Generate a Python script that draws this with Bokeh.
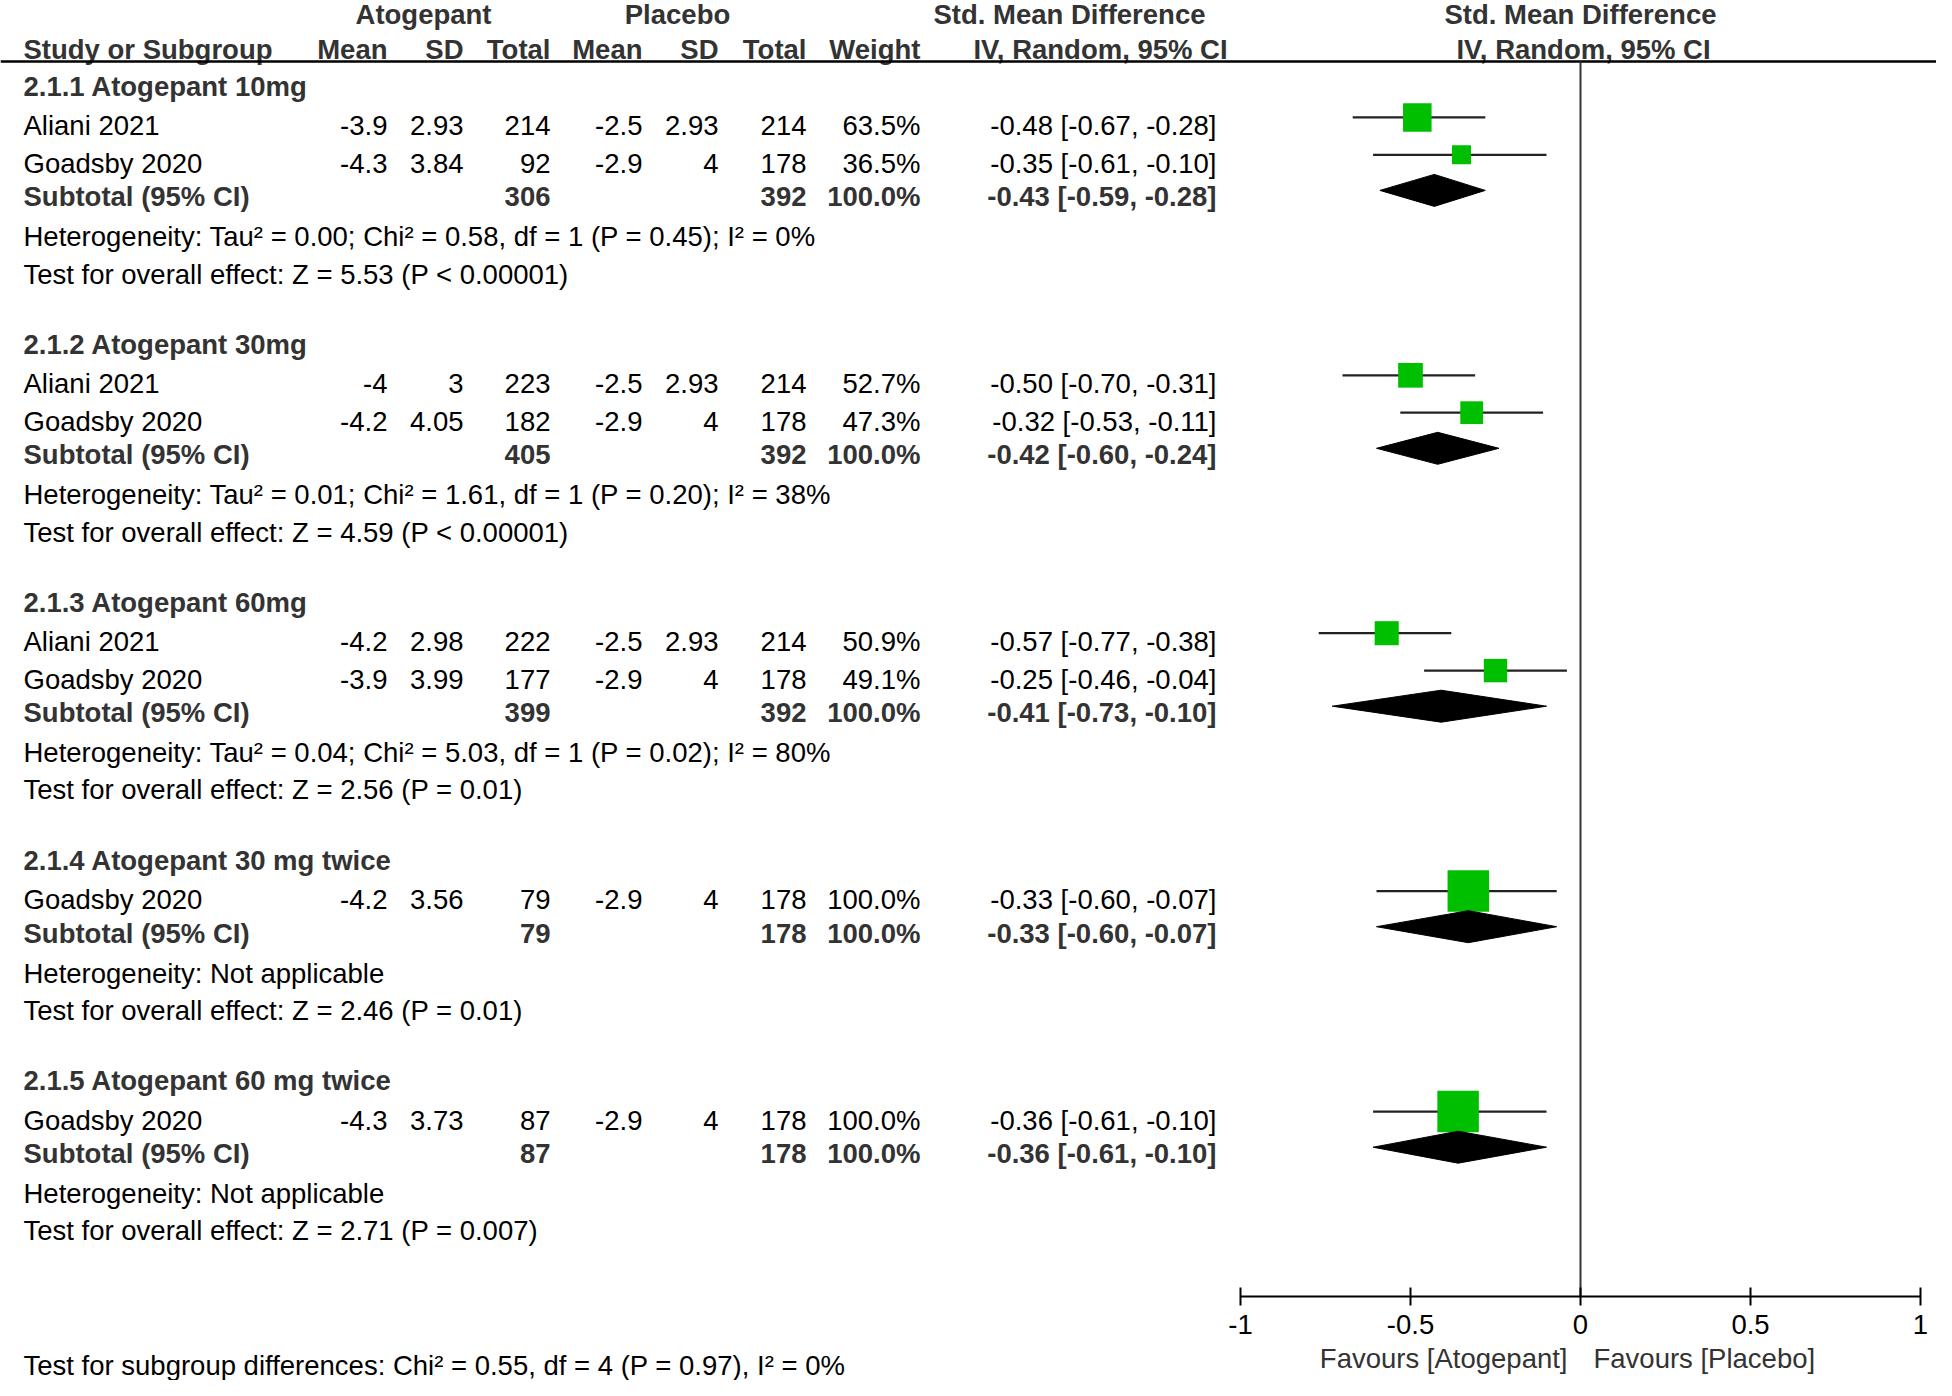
from bokeh.plotting import figure
from bokeh.models import ColumnDataSource, Range1d, LinearAxis, FixedTicker, NumeralTickFormatter
from bokeh.core.properties import value
from bokeh.embed import file_html
from bokeh.resources import INLINE

# ---------------- data ----------------
subgroups = ["2.1.1 Atogepant 10mg", "2.1.2 Atogepant 30mg", "2.1.3 Atogepant 60mg",
             "2.1.4 Atogepant 30 mg twice", "2.1.5 Atogepant 60 mg twice"]

study_group = [0, 0, 1, 1, 2, 2, 3, 4]
study_names = ["Aliani 2021", "Goadsby 2020", "Aliani 2021", "Goadsby 2020",
               "Aliani 2021", "Goadsby 2020", "Goadsby 2020", "Goadsby 2020"]
atog_mean = [-3.9, -4.3, -4, -4.2, -4.2, -3.9, -4.2, -4.3]
atog_sd = [2.93, 3.84, 3, 4.05, 2.98, 3.99, 3.56, 3.73]
atog_n = [214, 92, 223, 182, 222, 177, 79, 87]
plac_mean = [-2.5, -2.9, -2.5, -2.9, -2.5, -2.9, -2.9, -2.9]
plac_sd = [2.93, 4, 2.93, 4, 2.93, 4, 4, 4]
plac_n = [214, 178, 214, 178, 214, 178, 178, 178]
weight = [63.5, 36.5, 52.7, 47.3, 50.9, 49.1, 100.0, 100.0]
smd = [-0.48, -0.35, -0.50, -0.32, -0.57, -0.25, -0.33, -0.36]
smd_lo = [-0.67, -0.61, -0.70, -0.53, -0.77, -0.46, -0.60, -0.61]
smd_hi = [-0.28, -0.10, -0.31, -0.11, -0.38, -0.04, -0.07, -0.10]

sub_atog_n = [306, 405, 399, 79, 87]
sub_plac_n = [392, 392, 392, 178, 178]
sub_weight = [100.0, 100.0, 100.0, 100.0, 100.0]
sub_smd = [-0.43, -0.42, -0.41, -0.33, -0.36]
sub_lo = [-0.59, -0.60, -0.73, -0.60, -0.61]
sub_hi = [-0.28, -0.24, -0.10, -0.07, -0.10]

heterogeneity = [
    "Heterogeneity: Tau\u00b2 = 0.00; Chi\u00b2 = 0.58, df = 1 (P = 0.45); I\u00b2 = 0%",
    "Heterogeneity: Tau\u00b2 = 0.01; Chi\u00b2 = 1.61, df = 1 (P = 0.20); I\u00b2 = 38%",
    "Heterogeneity: Tau\u00b2 = 0.04; Chi\u00b2 = 5.03, df = 1 (P = 0.02); I\u00b2 = 80%",
    "Heterogeneity: Not applicable",
    "Heterogeneity: Not applicable",
]
overall_effect = [
    "Test for overall effect: Z = 5.53 (P < 0.00001)",
    "Test for overall effect: Z = 4.59 (P < 0.00001)",
    "Test for overall effect: Z = 2.56 (P = 0.01)",
    "Test for overall effect: Z = 2.46 (P = 0.01)",
    "Test for overall effect: Z = 2.71 (P = 0.007)",
]
subgroup_test = "Test for subgroup differences: Chi\u00b2 = 0.55, df = 4 (P = 0.97), I\u00b2 = 0%"

tick_values = [-1, -0.5, 0, 0.5, 1]
favours_left = "Favours [Atogepant]"
favours_right = "Favours [Placebo]"

# ---------------- layout ----------------
FONT = value("Liberation Sans")
FS = value("27.5px")
BOLD_COLOR = "#333333"
GREEN = "#00BF00"

W, H = 1936, 1380
LEFT_X = 23
COL_X = [387, 463, 550, 642, 718, 806, 920, 1216]  # right edges
ZERO_PX = 1580.0
PX_PER_UNIT = 340.0
AXIS_Y = 1296
HEADER_LINE_Y = 61

p = figure(width=W, height=H, x_range=Range1d(0, W), y_range=Range1d(H, 0),
           output_backend="svg", toolbar_location=None, x_axis_type=None, y_axis_type=None,
           min_border=0, outline_line_color=None)
p.extra_x_ranges = {"smd": Range1d((0 - ZERO_PX) / PX_PER_UNIT, (W - ZERO_PX) / PX_PER_UNIT)}


def add_text(xs, ys, texts, align="left", bold=False, color="black", rng="default", x_offset=0):
    src = ColumnDataSource(dict(x=list(xs), y=list(ys), t=list(texts)))
    p.text(x="x", y="y", text="t", source=src, text_font=FONT, text_font_size=FS,
           text_font_style="bold" if bold else "normal", text_align=align,
           text_baseline="middle", text_color=color, x_range_name=rng, x_offset=x_offset)


# compute row positions
heading_y, study_y, sub_y, het_y, test_y = [], [None] * len(study_names), [], [], []
y = 86.0
for g in range(len(subgroups)):
    heading_y.append(y)
    idx = [i for i, sg in enumerate(study_group) if sg == g]
    for k, i in enumerate(idx):
        y += 39.4 if k == 0 else 37.4
        study_y[i] = y
    y += 33.6
    sub_y.append(y)
    y += 39.8
    het_y.append(y)
    y += 37.4
    test_y.append(y)
    y += 70.3

# header
add_text([423, 677, 1069], [13.5, 13.5, 13.5], ["Atogepant", "Placebo", "Std. Mean Difference"],
         align="center", bold=True, color=BOLD_COLOR)
add_text([1580], [13.5], ["Std. Mean Difference"], align="center", bold=True, color=BOLD_COLOR)
add_text([LEFT_X], [49], ["Study or Subgroup"], align="left", bold=True, color=BOLD_COLOR)
add_text(COL_X[:7], [49] * 7, ["Mean", "SD", "Total", "Mean", "SD", "Total", "Weight"],
         align="right", bold=True, color=BOLD_COLOR)
add_text([1100, 1583], [49, 49], ["IV, Random, 95% CI", "IV, Random, 95% CI"],
         align="center", bold=True, color=BOLD_COLOR)
p.segment(x0=[0], y0=[HEADER_LINE_Y], x1=[W], y1=[HEADER_LINE_Y], line_color="black", line_width=2.5)

# subgroup headings
add_text([LEFT_X] * len(subgroups), heading_y, subgroups, bold=True, color=BOLD_COLOR)

# study rows
add_text([LEFT_X] * len(study_names), study_y, study_names)
cols = [
    [f"{v:g}" for v in atog_mean],
    [f"{v:g}" for v in atog_sd],
    [str(v) for v in atog_n],
    [f"{v:g}" for v in plac_mean],
    [f"{v:g}" for v in plac_sd],
    [str(v) for v in plac_n],
    [f"{v:.1f}%" for v in weight],
    [f"{e:.2f} [{l:.2f}, {h:.2f}]" for e, l, h in zip(smd, smd_lo, smd_hi)],
]
for cx, col in zip(COL_X, cols):
    add_text([cx] * len(col), study_y, col, align="right")

# subtotal rows
add_text([LEFT_X] * len(sub_y), sub_y, ["Subtotal (95% CI)"] * len(sub_y), bold=True, color=BOLD_COLOR)
add_text([COL_X[2]] * len(sub_y), sub_y, [str(v) for v in sub_atog_n], align="right", bold=True, color=BOLD_COLOR)
add_text([COL_X[5]] * len(sub_y), sub_y, [str(v) for v in sub_plac_n], align="right", bold=True, color=BOLD_COLOR)
add_text([COL_X[6]] * len(sub_y), sub_y, [f"{v:.1f}%" for v in sub_weight], align="right", bold=True, color=BOLD_COLOR)
add_text([COL_X[7]] * len(sub_y), sub_y,
         [f"{e:.2f} [{l:.2f}, {h:.2f}]" for e, l, h in zip(sub_smd, sub_lo, sub_hi)],
         align="right", bold=True, color=BOLD_COLOR)

# heterogeneity & overall effect
add_text([LEFT_X] * len(het_y), het_y, heterogeneity)
add_text([LEFT_X] * len(test_y), test_y, overall_effect)
add_text([LEFT_X], [1365], [subgroup_test])

# ---------------- forest plot ----------------
p.segment(x0=[0], x1=[0], y0=[HEADER_LINE_Y], y1=[AXIS_Y], x_range_name="smd",
          line_color="#333333", line_width=2)

mark_y = [v - 8.5 for v in study_y]
p.segment(x0=smd_lo, x1=smd_hi, y0=mark_y, y1=mark_y, x_range_name="smd",
          line_color="#222222", line_width=2.2)
sizes = [6 + 0.355 * w for w in weight]
p.scatter(x=smd, y=mark_y, size=sizes, marker="square", fill_color=GREEN,
          line_color=None, x_range_name="smd")

dia_y = [v - 6.5 for v in sub_y]
p.patches(xs=[[l, e, h, e] for l, e, h in zip(sub_lo, sub_smd, sub_hi)],
          ys=[[c, c - 16, c, c + 16] for c in dia_y],
          fill_color="black", line_color="black", line_width=1, x_range_name="smd")

ax = LinearAxis(x_range_name="smd", fixed_location=AXIS_Y, bounds=(-1, 1),
                ticker=FixedTicker(ticks=tick_values),
                formatter=NumeralTickFormatter(format="0.[0]"))
ax.axis_line_width = 2
ax.axis_line_color = "black"
ax.major_tick_line_width = 2
ax.major_tick_line_color = "black"
ax.major_tick_in = 9
ax.major_tick_out = 9
ax.minor_tick_line_color = None
ax.major_label_text_font = "Liberation Sans"
ax.major_label_text_font_size = "27.5px"
ax.major_label_text_color = "black"
ax.major_label_standoff = 9
p.add_layout(ax, "below")

add_text([0], [1358], [favours_left], align="right", color=BOLD_COLOR, rng="smd", x_offset=-13)
add_text([0], [1358], [favours_right], align="left", color=BOLD_COLOR, rng="smd", x_offset=13)

open("out.html", "w").write(file_html(p, INLINE))
